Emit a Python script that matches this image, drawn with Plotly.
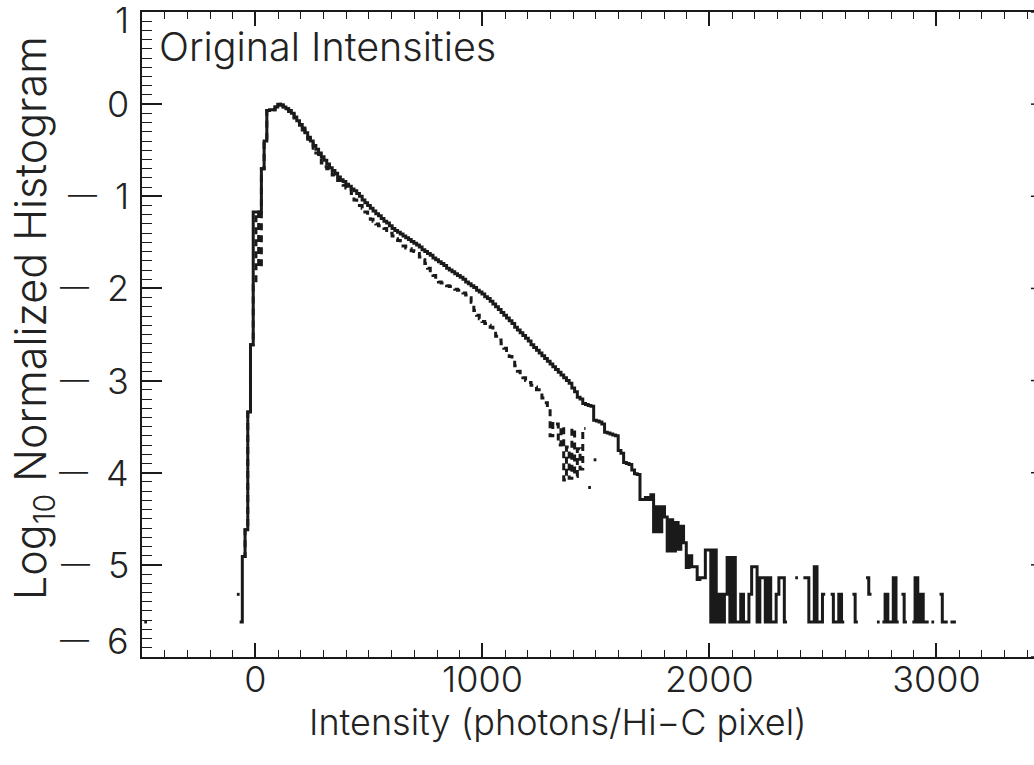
import plotly.graph_objects as go

# ---------------- data (log10 of normalized histogram, bin width 12) ----------------
BIN_WIDTH = 12

# solid histogram: first bin left edge and per-bin log10 values (None = empty bin)
SOLID_START = -70
SOLID_LOG = [
    -5.62, -4.91, -4.62, -3.34, -2.61, -1.17, -1.17, -1.17, -0.70, -0.40,
    -0.07, -0.06, -0.06, -0.03, 0.00, -0.01, -0.03, -0.05, -0.07, -0.10,
    -0.14, -0.18, -0.22, -0.26, -0.31, -0.36, -0.40, -0.45, -0.49, -0.53,
    -0.57, -0.61, -0.65, -0.69, -0.72, -0.75, -0.79, -0.82, -0.84, -0.87,
    -0.89, -0.92, -0.94, -0.97, -1.00, -1.04, -1.07, -1.10, -1.13, -1.16,
    -1.19, -1.21, -1.24, -1.27, -1.29, -1.32, -1.35, -1.37, -1.39, -1.41,
    -1.43, -1.45, -1.47, -1.49, -1.51, -1.53, -1.55, -1.58, -1.60, -1.62,
    -1.64, -1.67, -1.69, -1.71, -1.73, -1.75, -1.78, -1.80, -1.82, -1.84,
    -1.86, -1.88, -1.90, -1.93, -1.95, -1.97, -1.99, -2.02, -2.04, -2.06,
    -2.09, -2.11, -2.14, -2.17, -2.20, -2.23, -2.26, -2.29, -2.32, -2.35,
    -2.38, -2.42, -2.45, -2.48, -2.51, -2.54, -2.57, -2.61, -2.64, -2.67,
    -2.70, -2.73, -2.76, -2.79, -2.82, -2.85, -2.88, -2.91, -2.94, -2.97,
    -3.00, -3.03, -3.08, -3.12, -3.18, -3.20, -3.25, -3.26, -3.27, -3.28,
    -3.43, -3.44, -3.45, -3.47, -3.56, -3.57, -3.58, -3.59, -3.60, -3.76,
    -3.79, -3.89, -3.90, -3.91, -3.97, -4.01, -4.02, -4.29, -4.29, -4.27,
    -4.29, -4.24, -4.64, -4.37, -4.64, -4.37, -4.48, -4.85, -4.51, -4.85,
    -4.54, -4.83, -4.58, -4.76, -5.03, -4.90, -5.02, -5.02, -5.16, -5.14,
    -5.14, -4.84,
    # tail (from 1994)
    -4.84, -5.62, -4.84, -5.62, -5.32, -5.62, -5.32, -4.92, -5.62, -4.92,
    -5.62, -5.62, -5.32, -5.62, -5.62, -5.32, -5.02, -5.02, -5.62, -5.14,
    -5.14, -5.62, -5.14, -5.62, -5.62, -5.32, -5.14, -5.14, -5.62, None,
    None, None, -5.14, None, None, -5.14, -5.14, -5.62, -5.62, -5.02,
    -5.62, -5.62, -5.32, None, None, -5.32, -5.62, -5.62, -5.32, -5.62,
    None, None, None, -5.32, -5.62, None, None, None, -5.14, -5.32,
    None, None, -5.62, None, -5.62, -5.32, -5.62, -5.62, -5.14, -5.62,
    None, -5.32, -5.62, None, None, -5.62, -5.14, -5.62, -5.32, -5.62,
    -5.62, None, -5.62, None, None, -5.32, -5.62, -5.62, None, -5.62,
    -5.62,
]

# isolated single bins (bin centre, log10 value)
ISOLATED_X = [-484, -76]
ISOLATED_LOG = [-5.62, -5.32]

# dashed histogram
DASHED_START = -58
DASHED_LOG = [
    -4.91, -4.62, -3.34, -2.61, -1.97, -1.17, -1.77, -0.70, -0.40, -0.07,
    -0.06, -0.06, -0.03, 0.00, -0.01, -0.03, -0.05, -0.08, -0.11, -0.15,
    -0.19, -0.23, -0.28, -0.32, -0.38, -0.43, -0.48, -0.53, -0.59, -0.64,
    -0.68, -0.70, -0.74, -0.77, -0.79, -0.83, -0.86, -0.88, -0.91, -0.93,
    -0.97, -1.04, -1.07, -1.10, -1.13, -1.17, -1.22, -1.25, -1.27, -1.30,
    -1.32, -1.33, -1.35, -1.37, -1.40, -1.43, -1.46, -1.48, -1.51, -1.54,
    -1.56, -1.57, -1.59, -1.60, -1.62, -1.66, -1.69, -1.73, -1.78, -1.83,
    -1.86, -1.90, -1.93, -1.94, -1.96, -1.97, -1.98, -1.99, -2.01, -2.02,
    -2.04, -2.05, -2.07, -2.10, -2.15, -2.24, -2.29, -2.33, -2.36, -2.38,
    -2.40, -2.42, -2.43, -2.52, -2.56, -2.60, -2.65, -2.70, -2.74, -2.78,
    -2.84, -2.90, -2.94, -2.97, -3.00, -3.02, -3.05, -3.07, -3.10, -3.14,
    -3.19, -3.24, -3.30, -3.60, -3.45, -3.47, -3.70, -3.50, -4.08, -3.72,
    -4.06, -3.52, -4.04, -3.74, -3.96, -3.52, None, -4.16, None, -3.86,
]

X_TICKS = [0, 1000, 2000, 3000]
Y_TICKS = [-6, -5, -4, -3, -2, -1, 0, 1]
Y_TICK_TEXT = ["6", "5", "4", "3", "2", "1", "0", "1"]
Y_TICK_NEG = [True, True, True, True, True, True, False, False]
# small vertical nudges of the end labels, as in the original (px, + = up)
Y_TICK_SHIFT = [16, 0, 0, 0, 0, 0, 0, -8]


def steps(start, values):
    xs, ys = [], []
    for i, v in enumerate(values):
        left = start + BIN_WIDTH * i
        if v is None:
            xs.append(None)
            ys.append(None)
        else:
            xs += [left, left + BIN_WIDTH]
            ys += [v, v]
    return xs, ys


sx, sy = steps(SOLID_START, SOLID_LOG)
for cx, v in zip(ISOLATED_X, ISOLATED_LOG):
    sx += [None, cx - BIN_WIDTH / 2, cx + BIN_WIDTH / 2]
    sy += [None, v, v]
dx, dy = steps(DASHED_START, DASHED_LOG)

FAMILY = "Inter, Roboto, sans-serif"
TXT = "#222222"
FONT = dict(family=FAMILY, size=36, color=TXT, weight=300)
INK = "#1a1a1a"

fig = go.Figure()
fig.add_trace(go.Scatter(x=dx, y=dy, mode="lines", connectgaps=False,
                         line=dict(color=INK, width=3.0, dash="7px,5px"),
                         hoverinfo="skip", showlegend=False))
fig.add_trace(go.Scatter(x=sx, y=sy, mode="lines", connectgaps=False,
                         line=dict(color=INK, width=3.0),
                         hoverinfo="skip", showlegend=False))

annotations = [
    dict(text="Original Intensities", xref="paper", yref="paper",
         x=0.017, y=0.946, xanchor="left", yanchor="middle",
         showarrow=False, font=dict(FONT, size=39.5)),
    dict(text="Intensity (photons/Hi\u2212C pixel)", xref="paper", yref="paper",
         x=0.466, y=-0.1, xanchor="center", yanchor="middle",
         showarrow=False, font=FONT),
    dict(text="Log<sub>10</sub> Normalized Histogram", xref="paper", yref="paper",
         x=-0.122, y=0.526, xanchor="center", yanchor="middle", textangle=-90,
         showarrow=False, font=dict(FONT, size=43)),
]
for yv, txt, neg, sh in zip(Y_TICKS, Y_TICK_TEXT, Y_TICK_NEG, Y_TICK_SHIFT):
    if neg:
        label = ("<span style='font-size:29px;baseline-shift:4px'>\u2014</span>"
                 "\u2002" + txt)
    else:
        label = txt
    ann = dict(text=label, xref="paper", yref="y", x=-0.012, y=yv,
               xanchor="right", yanchor="middle", yshift=sh,
               showarrow=False, font=FONT)
    if yv == 1:
        ann["height"] = 30
    annotations.append(ann)

fig.update_layout(
    width=1034, height=765,
    margin=dict(l=142, r=0, t=12, b=108),
    paper_bgcolor="white", plot_bgcolor="white",
    font=FONT,
    showlegend=False,
    xaxis=dict(range=[-500, 3430], tickvals=X_TICKS, ticks="inside", ticklen=14,
               tickwidth=1.5, tickcolor=INK, showline=True, linewidth=1.5,
               linecolor=INK, mirror="ticks", showgrid=False, zeroline=False,
               tickfont=FONT, ticklabelstandoff=-10,
               minor=dict(dtick=100, ticks="inside", ticklen=7, tickwidth=1.2,
                          tickcolor=INK, showgrid=False)),
    yaxis=dict(range=[-6, 1], tickvals=Y_TICKS, showticklabels=False,
               ticks="inside", ticklen=20, tickwidth=1.5, tickcolor=INK,
               showline=True, linewidth=1.5, linecolor=INK, mirror=False,
               showgrid=False, zeroline=False,
               minor=dict(dtick=0.1, ticks="inside", ticklen=10, tickwidth=1.2,
                          tickcolor=INK, showgrid=False)),
    annotations=annotations,
)

# stubs of the right-hand axis ticks (the axis itself lies beyond the image edge)
for yv in Y_TICKS:
    fig.add_shape(type="line", xref="paper", yref="y", x0=1 - 3 / 892, x1=1,
                  y0=yv, y1=yv, line=dict(color=INK, width=1.5))

fig.write_html("out.html")
